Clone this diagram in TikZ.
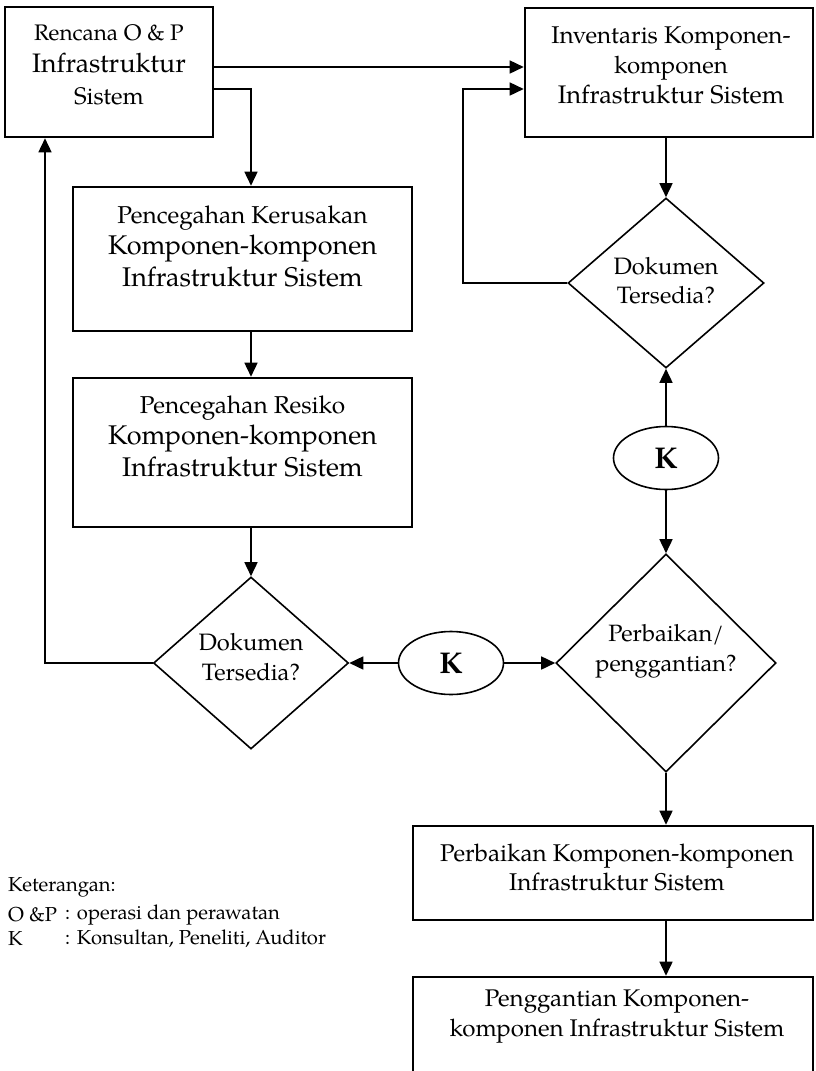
\documentclass[tikz,border=0pt]{standalone}
\usepackage{fontspec}
\setmainfont{texgyrepagella}[Extension=.otf,UprightFont=*-regular,BoldFont=*-bold,ItalicFont=*-italic,BoldItalicFont=*-bolditalic]
\usetikzlibrary{arrows.meta,shapes.geometric}
\newcommand{\fz}[2]{\fontsize{#1}{#2}\selectfont}
\begin{document}
\begin{tikzpicture}[x=1pt,y=-1pt,
  boxnode/.style={draw,line width=2.6pt,inner sep=0pt},
  dia/.style={draw,diamond,line width=1.6pt,inner sep=0pt},
  ell/.style={draw,ellipse,line width=1.6pt,inner sep=0pt,minimum width=105pt,minimum height=63pt,font=\fz{30}{34}\bfseries},
  txt/.style={align=center,inner sep=0pt},
  legend/.style={anchor=west,inner sep=0pt,font=\fz{20.2}{25}},
  conn/.style={line width=1.6pt},
  arr/.style={conn,-{Triangle[length=14pt,width=13pt]}}]
\useasboundingbox (0,0) rectangle (815,1071);

% boxes
\node[boxnode,minimum width=208pt,minimum height=130pt] (rencana) at (109,72) {};
\node[boxnode,minimum width=288pt,minimum height=129pt] (inventaris) at (669,72.5) {};
\node[boxnode,minimum width=339pt,minimum height=144pt] (cegahrusak) at (242.5,259) {};
\node[boxnode,minimum width=339pt,minimum height=149pt] (cegahresiko) at (242.5,452.5) {};
\node[boxnode,minimum width=400pt,minimum height=94pt] (perbaikan) at (613,873) {};
\node[boxnode,minimum width=400pt,minimum height=140pt] (penggantian) at (613,1047) {};

% texts in boxes
\node[txt,font=\fz{23.7}{32}] (rencanaT) at (109,65)
  {{\fz{22.5}{32}Rencana O \& P}\\{\fz{26.7}{32}Infrastruktur}\\{\fz{24}{32}Sistem}};
\node[txt,font=\fz{24.2}{30}] (inventarisT) at (671,65)
  {{\fz{24.2}{30}Inventaris Komponen-}\\{\fz{24}{30}komponen}\\{\fz{25.4}{30}Infrastruktur Sistem}};
\node[txt,font=\fz{24.4}{31.5}] (cegahrusakT) at (242.5,246)
  {{\fz{24.4}{31.5}Pencegahan Kerusakan}\\{\fz{27}{31.5}Komponen-komponen}\\{\fz{27}{31.5}Infrastruktur Sistem}};
\node[txt,font=\fz{24.4}{31.5}] (cegahresikoT) at (242.5,436)
  {{\fz{24.4}{31.5}Pencegahan Resiko}\\{\fz{27}{31.5}Komponen-komponen}\\{\fz{27}{31.5}Infrastruktur Sistem}};
\node[txt,font=\fz{24.2}{29}] (perbaikanT) at (617,867)
  {Perbaikan Komponen-komponen\\Infrastruktur Sistem};
\node[txt,font=\fz{24.1}{30}] (penggantianT) at (617,1017)
  {Penggantian Komponen-\\komponen Infrastruktur Sistem};

% diamonds
\node[dia,minimum width=196pt,minimum height=170pt] (dokA) at (666,283) {};
\node[txt,font=\fz{23.7}{29}] (dokAT) at (666,281) {Dokumen\\Tersedia?};
\node[dia,minimum width=195pt,minimum height=172pt] (dokB) at (251,663) {};
\node[txt,font=\fz{23.7}{30}] (dokBT) at (251,657) {Dokumen\\Tersedia?};
\node[dia,minimum width=220pt,minimum height=218pt] (pilih) at (666,663) {};
\node[txt,font=\fz{23.6}{30}] (pilihT) at (666,651) {Perbaikan/\\penggantian?};

% ellipses
\node[ell] (kA) at (666,458) {K};
\node[ell] (kB) at (451,663) {K};

% connectors
\draw[arr] (rencana.east |- 0,67) -- (inventaris.west |- 0,67);
\draw[arr] (rencana.east |- 0,89) -- (251,89) -- (cegahrusak.north -| 251,0);
\draw[arr] (inventaris.south -| dokA.north) -- (dokA.north);
\draw[arr] (dokA.west) -- (463,283) -- (463,89) -- (inventaris.west |- 0,89);
\draw[arr] (kA.north) -- (dokA.south);
\draw[arr] (kA.south) -- (pilih.north);
\draw[arr] (cegahrusak.south -| 251,0) -- (cegahresiko.north -| 251,0);
\draw[arr] (cegahresiko.south -| dokB.north) -- (dokB.north);
\draw[arr] (dokB.west) -- (45,663) -- (rencana.south -| 45,0);
\draw[arr] (kB.west) -- (dokB.east);
\draw[arr] (kB.east) -- (pilih.west);
\draw[arr] (pilih.south) -- (perbaikan.north -| pilih.south);
\draw[arr] (perbaikan.south -| pilih.south) -- (penggantian.north -| pilih.south);

% legend
\node[legend] (ketT) at (8,887) {Keterangan:};
\node[legend] (opT) at (8,915) {O \&P};
\node[legend] (opD) at (65,915) {: operasi dan perawatan};
\node[legend] (kT) at (8,939) {K};
\node[legend] (kD) at (65,939) {: Konsultan, Peneliti, Auditor};
\end{tikzpicture}
\end{document}
